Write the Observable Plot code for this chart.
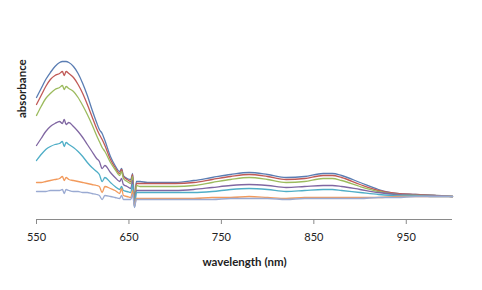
<!DOCTYPE html>
<html>
<head>
<meta charset="utf-8">
<script src="https://cdn.jsdelivr.net/npm/d3@7"></script>
<script src="https://cdn.jsdelivr.net/npm/@observablehq/plot@0.6"></script>
<style>
  html, body { margin: 0; padding: 0; background: #fff; }
  #chart svg { display: block; }
</style>
</head>
<body>
<div id="chart"></div>
<script>
// wavelength grid (nm)
const wavelengths = [550,555,560,565,570,575,578,580,582,585,590,595,600,605,610,615,618,621,624,630,635,640,642,644,648,652,654,656,658,662,670,680,700,720,740,760,780,800,820,840,860,870,880,900,920,940,960,980,1000];

// absorbance (arbitrary units)
const s1 = [1.03,1.12,1.21,1.28,1.34,1.38,1.39,1.39,1.39,1.38,1.34,1.27,1.17,1.05,0.91,0.78,0.71,0.67,0.60,0.44,0.35,0.29,0.32,0.25,0.22,0.21,0.27,0.00,0.19,0.19,0.18,0.18,0.18,0.20,0.23,0.26,0.28,0.26,0.23,0.24,0.27,0.27,0.25,0.18,0.11,0.07,0.06,0.05,0.04];
const s2 = [0.96,1.05,1.14,1.21,1.25,1.27,1.29,1.25,1.29,1.27,1.23,1.16,1.07,0.96,0.84,0.72,0.66,0.61,0.55,0.41,0.33,0.27,0.31,0.24,0.21,0.19,0.26,-0.03,0.17,0.17,0.17,0.17,0.17,0.18,0.21,0.24,0.26,0.24,0.21,0.22,0.25,0.25,0.23,0.16,0.10,0.07,0.06,0.05,0.04];
const s3 = [0.85,0.94,1.02,1.07,1.11,1.13,1.15,1.11,1.14,1.12,1.09,1.03,0.95,0.86,0.76,0.65,0.59,0.53,0.49,0.38,0.31,0.25,0.29,0.22,0.19,0.17,0.24,-0.05,0.15,0.14,0.14,0.14,0.14,0.15,0.18,0.21,0.23,0.21,0.18,0.19,0.22,0.22,0.20,0.14,0.09,0.06,0.05,0.05,0.04];
const s4 = [0.55,0.62,0.69,0.74,0.77,0.79,0.77,0.81,0.76,0.78,0.74,0.69,0.63,0.56,0.49,0.42,0.39,0.32,0.35,0.28,0.23,0.19,0.22,0.16,0.14,0.12,0.20,-0.05,0.10,0.10,0.10,0.10,0.10,0.11,0.13,0.15,0.16,0.15,0.13,0.14,0.15,0.15,0.14,0.11,0.08,0.06,0.05,0.05,0.04];
const s5 = [0.40,0.46,0.51,0.54,0.56,0.57,0.59,0.54,0.58,0.56,0.53,0.49,0.44,0.38,0.33,0.29,0.26,0.19,0.23,0.18,0.14,0.11,0.14,0.10,0.09,0.08,0.16,-0.07,0.08,0.08,0.08,0.08,0.08,0.08,0.09,0.11,0.12,0.11,0.09,0.10,0.11,0.11,0.10,0.08,0.06,0.05,0.05,0.04,0.04];
const s6 = [0.18,0.18,0.19,0.20,0.21,0.22,0.24,0.20,0.23,0.21,0.20,0.19,0.18,0.17,0.16,0.15,0.14,0.08,0.14,0.12,0.10,0.07,0.12,0.05,0.04,0.03,0.10,-0.06,0.02,0.02,0.02,0.02,0.02,0.02,0.03,0.03,0.04,0.03,0.02,0.03,0.03,0.03,0.03,0.03,0.03,0.04,0.04,0.04,0.04];
const s7 = [0.09,0.09,0.09,0.10,0.10,0.10,0.11,0.07,0.11,0.10,0.09,0.09,0.08,0.08,0.07,0.06,0.05,0.01,0.05,0.04,0.03,0.02,0.05,0.01,0.01,0.01,0.06,-0.07,0.01,0.01,0.01,0.01,0.01,0.01,0.01,0.02,0.02,0.02,0.01,0.02,0.02,0.02,0.02,0.02,0.03,0.03,0.04,0.04,0.04];

const seriesNames = ["s1","s2","s3","s4","s5","s6","s7"];
const seriesColors = ["#5a7db3","#c05a57","#9cbb5e","#8067a2","#4faec7","#f29a5c","#9aaad2"];
const xTicks = [550, 650, 750, 850, 950];
const xDomain = [550, 1000];
const yDomain = [-0.19, 1.5];
const xTitle = "wavelength (nm)";
const yTitle = "absorbance";

const seriesValues = [s1, s2, s3, s4, s5, s6, s7];
const data = [];
seriesNames.forEach((name, k) => {
  wavelengths.forEach((w, i) => data.push({series: name, wl: w, abs: seriesValues[k][i]}));
});

const chart = Plot.plot({
  width: 482,
  height: 290,
  marginLeft: 36,
  marginRight: 30,
  marginTop: 50,
  marginBottom: 71,
  style: {fontFamily: "Lato, 'Open Sans', sans-serif", fontSize: "11px", color: "#222", background: "#fff"},
  x: {domain: xDomain},
  y: {domain: yDomain, axis: null},
  color: {domain: seriesNames, range: seriesColors},
  marks: [
    Plot.ruleY([yDomain[0]], {stroke: "#8a8a8a", strokeWidth: 1}),
    Plot.axisX({ticks: xTicks, tickSize: 5, tickPadding: 9, stroke: "#8a8a8a", fill: "#222", label: null, fontSize: 11}),
    Plot.line(data, {x: "wl", y: "abs", z: "series", stroke: "series", strokeWidth: 1.3, curve: "monotone-x"}),
    Plot.text([xTitle], {text: d => d, frameAnchor: "bottom", dy: 46, fontWeight: "bold", fontSize: 11.5, fill: "#222"}),
    Plot.text([yTitle], {text: d => d, frameAnchor: "left", dx: -14, dy: -17, rotate: -90, fontWeight: "bold", fontSize: 11.5, fill: "#222"})
  ]
});
document.getElementById("chart").appendChild(chart);
</script>
</body>
</html>
